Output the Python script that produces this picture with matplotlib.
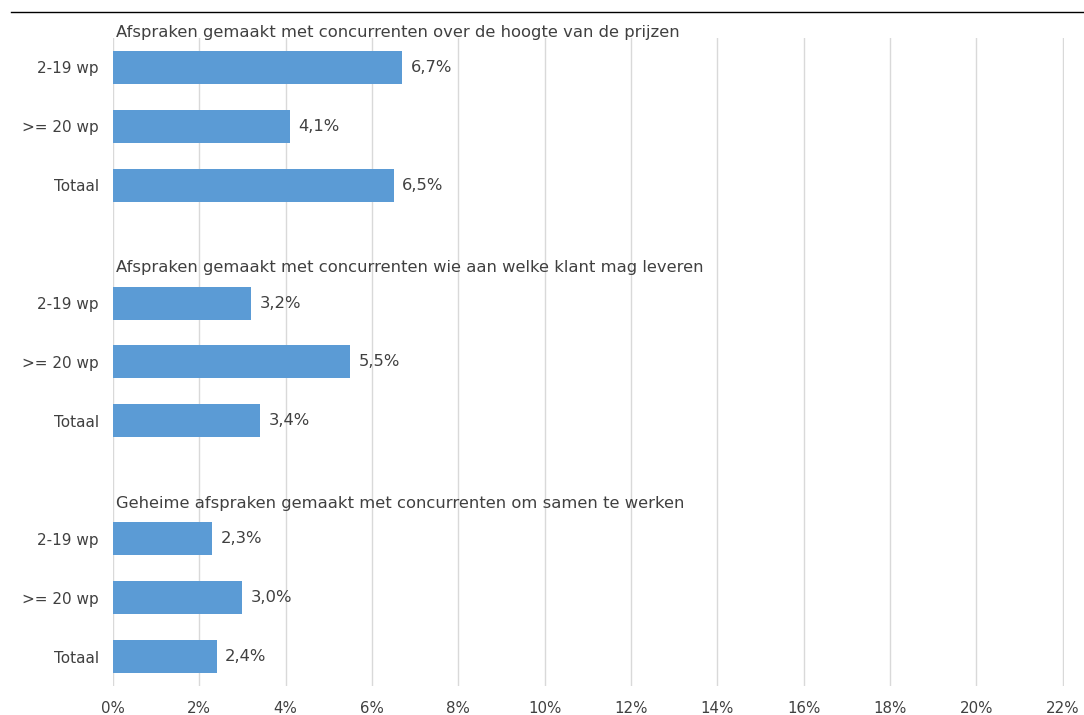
import matplotlib.pyplot as plt
from matplotlib.lines import Line2D
import numpy as np

plt.rcParams['font.family'] = ['DejaVu Sans']

group_titles = [
    "Afspraken gemaakt met concurrenten over de hoogte van de prijzen",
    "Afspraken gemaakt met concurrenten wie aan welke klant mag leveren",
    "Geheime afspraken gemaakt met concurrenten om samen te werken",
]
categories = ["2-19 wp", ">= 20 wp", "Totaal"]
prijzen = [6.7, 4.1, 6.5]
klanten = [3.2, 5.5, 3.4]
samenwerken = [2.3, 3.0, 2.4]
x_ticks = list(range(0, 23, 2))

groups = [prijzen, klanten, samenwerken]
bar_color = "#5B9BD5"
text_color = "#404040"

fig = plt.figure(figsize=(10.84, 7.15), dpi=100)
ax = fig.add_axes([0.1042, 0.0406, 0.8774, 0.9063])

ypos, ylabels = [], []
for g, values in enumerate(groups):
    rows = np.arange(len(values)) + g * 4
    ax.barh(rows, values, height=0.56, color=bar_color, zorder=3)
    for r, v in zip(rows, values):
        ax.text(v + 0.2, r, f"{v:.1f}%".replace(".", ","), va="center", ha="left",
                fontsize=11.8, color=text_color)
    # group heading above the three bars
    ax.text(0.08, rows[0] - 0.6, group_titles[g], va="center", ha="left",
            fontsize=11.8, color=text_color, clip_on=False)
    ypos.extend(rows)
    ylabels.extend(categories)

ax.set_yticks(ypos)
ax.set_yticklabels(ylabels)
ax.set_ylim(10.5, -0.5)
ax.set_xlim(0, 22.03)
ax.set_xticks(x_ticks)
ax.set_xticklabels([f"{t}%" for t in x_ticks])
ax.tick_params(length=0, labelcolor=text_color)
ax.tick_params(axis="y", pad=10, labelsize=11)
ax.tick_params(axis="x", pad=11, labelsize=10.8)
ax.grid(axis="x", color="#d9d9d9", linewidth=1, zorder=0)
for s in ax.spines.values():
    s.set_visible(False)

fig.add_artist(Line2D([0.01, 1.0], [0.983, 0.983], color="black", linewidth=1))

fig.savefig("out.png", dpi=100)
